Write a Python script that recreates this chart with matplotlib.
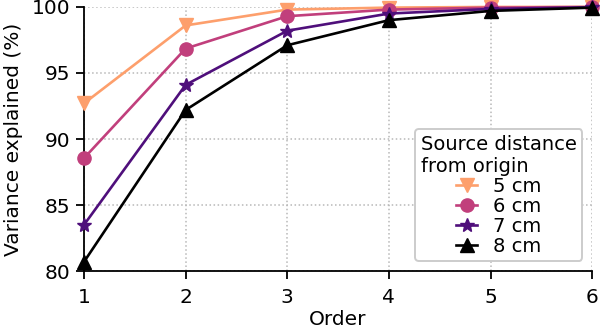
import matplotlib
matplotlib.use("Agg")
import matplotlib.pyplot as plt

# data
order = [1, 2, 3, 4, 5, 6]
labels = ["5 cm", "6 cm", "7 cm", "8 cm"]
var_5cm = [92.7, 98.6, 99.8, 99.95, 100.0, 100.0]
var_6cm = [88.55, 96.85, 99.3, 99.8, 99.95, 100.0]
var_7cm = [83.5, 94.1, 98.2, 99.5, 99.85, 99.98]
var_8cm = [80.7, 92.2, 97.1, 99.0, 99.7, 99.95]

series = [var_5cm, var_6cm, var_7cm, var_8cm]
colors = ["#fd9f6c", "#c13f7c", "#4f0f7b", "#000000"]
markers = ["v", "o", "*", "^"]
msizes = [9.5, 9.5, 10, 9.5]

plt.rcParams["font.family"] = "DejaVu Sans"
plt.rcParams["font.size"] = 14.5

fig, ax = plt.subplots(figsize=(6.0, 3.31), dpi=100)
fig.subplots_adjust(left=0.14, right=0.987, top=0.979, bottom=0.181)

for vals, lab, c, m, ms in zip(series, labels, colors, markers, msizes):
    ax.plot(order, vals, color=c, marker=m, markersize=ms, lw=1.9,
            label=lab, clip_on=False, zorder=3)

ax.set_xlim(1, 6)
ax.set_ylim(80, 100)
ax.set_xticks(order)
ax.set_yticks([80, 85, 90, 95, 100])
ax.set_xlabel("Order", labelpad=2)
ax.set_ylabel("Variance explained (%)", labelpad=6)
ax.grid(True, linestyle=":", color="#b8b8b8", lw=1.1)
ax.spines["top"].set_visible(False)
ax.spines["right"].set_visible(False)
ax.spines["left"].set_linewidth(1.3)
ax.spines["bottom"].set_linewidth(1.3)
ax.tick_params(width=1.3, length=6, pad=4)
ax.tick_params(axis="x", pad=6)

leg = ax.legend(title="Source distance\nfrom origin", loc="lower right",
                handlelength=1.1, labelspacing=0.05, borderpad=0.3,
                handletextpad=0.8, fontsize=14, title_fontsize=14,
                framealpha=1, edgecolor="#cccccc")
leg.get_frame().set_linewidth(1.4)

fig.savefig("out.png", dpi=100)
